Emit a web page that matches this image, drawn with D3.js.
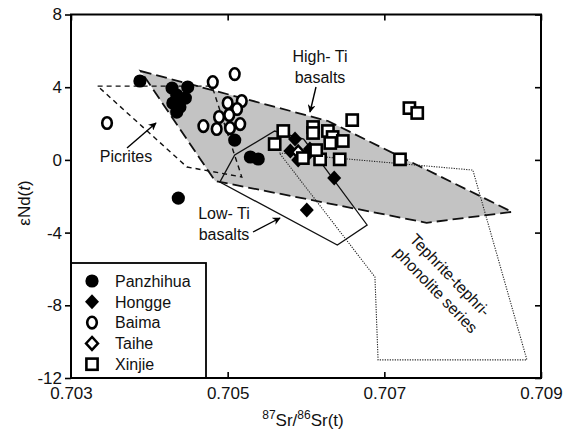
<!DOCTYPE html>
<html><head><meta charset="utf-8">
<script src="https://cdn.jsdelivr.net/npm/d3@7"></script>
<style>
body{margin:0;background:#fff;}
svg{display:block;font-family:Arial,"Liberation Sans",Helvetica,sans-serif;}
</style></head>
<body>
<svg id="c" width="566" height="439"></svg>
<script>
// ---- data ----
const xTicks = [0.703, 0.705, 0.707, 0.709];
const yTicks = [8, 4, 0, -4, -8, -12];
const seriesNames = ["Panzhihua", "Hongge", "Baima", "Taihe", "Xinjie"];

const panzhihua = [[0.70388,4.34],[0.70429,3.95],[0.70449,4.01],[0.70435,3.57],[0.70446,3.40],[0.70430,3.13],[0.70439,2.91],[0.70435,2.63],[0.70509,1.09],[0.70529,0.16],[0.70539,0.05],[0.70437,-2.10]];
const hongge = [[0.70586,1.15],[0.70580,0.49],[0.70605,0.60],[0.70599,0.16],[0.70590,0.0],[0.70636,-1.00],[0.70601,-2.76]];
const baima = [[0.70346,2.03],[0.70481,4.28],[0.70509,4.72],[0.70500,3.13],[0.70518,3.24],[0.70512,2.80],[0.70489,2.36],[0.70502,2.47],[0.70469,1.86],[0.70516,1.97],[0.70486,1.70],[0.70503,1.75]];
const taihe = [[0.70590,0.43]];
const xinjie = [[0.70571,1.59],[0.70560,0.87],[0.70609,1.81],[0.70609,1.48],[0.70628,1.59],[0.70634,1.26],[0.70631,0.93],[0.70647,1.04],[0.70659,2.19],[0.70618,0.03],[0.70643,0.03],[0.70720,0.03],[0.70732,2.85],[0.70742,2.58],[0.70596,0.10],[0.70613,0.54]];

const highTi = [[0.70389,4.89],[0.70628,2.14],[0.70863,-2.86],[0.70754,-3.46],[0.70484,-1.16]];
const picrites = [[0.70334,4.06],[0.70480,4.06],[0.70518,-0.94],[0.70448,-0.39]];
const lowTi = [[0.70490,-1.22],[0.70509,0.27],[0.70560,1.59],[0.70597,1.15],[0.70678,-3.58],[0.70640,-4.68]];
const tephrite = [[0.70566,0.38],[0.70813,-0.56],[0.70882,-11.0],[0.70692,-11.0],[0.70688,-6.44]];

// ---- layout ----
const L = 71, R = 541, T = 14.5, B = 378;
const svg = d3.select("#c");
const x = d3.scaleLinear().domain([0.703, 0.709]).range([L, R]);
const y = d3.scaleLinear().domain([-12, 8]).range([B, T]);
const line = d3.line().x(d => x(d[0])).y(d => y(d[1])).curve(d3.curveLinearClosed);

// fields
svg.append("path").datum(highTi).attr("d", line)
  .attr("fill", "#c3c3c3").attr("stroke", "#111").attr("stroke-width", 1.8)
  .attr("stroke-dasharray", "11,5");
svg.append("path").datum(picrites).attr("d", line)
  .attr("fill", "none").attr("stroke", "#111").attr("stroke-width", 1.4)
  .attr("stroke-dasharray", "5,4");
svg.append("path").datum(lowTi).attr("d", line)
  .attr("fill", "none").attr("stroke", "#111").attr("stroke-width", 1.3);
svg.append("path").datum(tephrite).attr("d", line)
  .attr("fill", "none").attr("stroke", "#222").attr("stroke-width", 1.1)
  .attr("stroke-dasharray", "1.2,1.3");

// symbols
const sym = {
  Panzhihua: (g) => g.append("circle").attr("r", 6.6).attr("fill", "#000"),
  Hongge: (g) => g.append("path").attr("d", "M0,-7.5L7,0L0,7.5L-7,0Z").attr("fill", "#000"),
  Baima: (g) => g.append("ellipse").attr("rx", 4.8).attr("ry", 5.8).attr("fill", "#fff").attr("stroke", "#000").attr("stroke-width", 2.6),
  Taihe: (g) => g.append("path").attr("d", "M0,-6.5L6,0L0,6.5L-6,0Z").attr("fill", "#fff").attr("stroke", "#000").attr("stroke-width", 2.4),
  Xinjie: (g) => g.append("rect").attr("x", -5.6).attr("y", -5.6).attr("width", 11.2).attr("height", 11.2).attr("fill", "#fff").attr("stroke", "#000").attr("stroke-width", 2.6)
};
const dataSets = {Panzhihua: panzhihua, Hongge: hongge, Baima: baima, Taihe: taihe, Xinjie: xinjie};
["Panzhihua", "Baima", "Hongge", "Taihe", "Xinjie"].forEach(name => {
  dataSets[name].forEach(d => {
    const g = svg.append("g").attr("transform", `translate(${x(d[0])},${y(d[1])})`);
    sym[name](g);
  });
});

// axes
const fmtY = d => String(d);
const gL = svg.append("g").attr("transform", `translate(${L},0)`)
  .call(d3.axisLeft(y).tickValues(yTicks).tickSize(6).tickSizeOuter(0).tickPadding(3).tickFormat(fmtY));
const gR = svg.append("g").attr("transform", `translate(${R},0)`)
  .call(d3.axisRight(y).tickValues(yTicks).tickSize(-6).tickSizeOuter(0).tickFormat(""));
const gB = svg.append("g").attr("transform", `translate(0,${B})`)
  .call(d3.axisBottom(x).tickValues(xTicks).tickSize(-6).tickSizeOuter(0).tickPadding(6).tickFormat(d3.format(".3f")));
const gT = svg.append("g").attr("transform", `translate(0,${T})`)
  .call(d3.axisTop(x).tickValues(xTicks).tickSize(-6).tickSizeOuter(0).tickFormat(""));
[gL, gR, gB, gT].forEach(g => {
  g.select(".domain").remove();
  g.selectAll("line").attr("stroke", "#000").attr("stroke-width", 1.6);
  g.selectAll("text").attr("font-size", 17).attr("fill", "#111").attr("font-family", "Arial, 'Liberation Sans', sans-serif");
});
gB.selectAll("text").attr("dy", "0.9em");

// legend
const lg = svg.append("g");
lg.append("rect").attr("x", L).attr("y", 263).attr("width", 135).attr("height", B - 263)
  .attr("fill", "#fff").attr("stroke", "#000").attr("stroke-width", 1.8);
seriesNames.forEach((name, i) => {
  const yy = 281 + i * 20.8;
  const g = lg.append("g").attr("transform", `translate(92,${yy})`);
  sym[name](g);
  lg.append("text").attr("x", 115).attr("y", yy).attr("dy", "0.36em")
    .attr("font-size", 16).attr("fill", "#111").text(name);
});

// frame
svg.append("rect").attr("x", L).attr("y", T).attr("width", R - L).attr("height", B - T)
  .attr("fill", "none").attr("stroke", "#000").attr("stroke-width", 2);

// annotations
const ann = svg.append("g").attr("font-size", 16).attr("fill", "#111");
ann.append("text").attr("x", 320).attr("y", 62).attr("text-anchor", "middle").text("High- Ti");
ann.append("text").attr("x", 320).attr("y", 83).attr("text-anchor", "middle").text("basalts");
ann.append("text").attr("x", 126).attr("y", 162).attr("text-anchor", "middle").text("Picrites");
ann.append("text").attr("x", 224).attr("y", 219).attr("text-anchor", "middle").text("Low- Ti");
ann.append("text").attr("x", 224).attr("y", 240).attr("text-anchor", "middle").text("basalts");
ann.append("text").attr("transform", "translate(446,279) rotate(46)").attr("text-anchor", "middle").text("Tephrite-tephri-");
ann.append("text").attr("transform", "translate(432,294) rotate(46)").attr("text-anchor", "middle").text("phonolite series");

// arrows
const defs = svg.append("defs");
defs.append("marker").attr("id", "ah").attr("viewBox", "0 0 10 10").attr("refX", 9).attr("refY", 5)
  .attr("markerWidth", 8).attr("markerHeight", 8).attr("orient", "auto-start-reverse")
  .attr("markerUnits", "userSpaceOnUse")
  .append("path").attr("d", "M0,0L10,5L0,10L3,5Z").attr("fill", "#000");
const arrows = [[[316, 87], [310, 112]], [[127, 148], [156, 123]], [[253, 232], [280, 218]]];
arrows.forEach(a => {
  svg.append("line").attr("x1", a[0][0]).attr("y1", a[0][1]).attr("x2", a[1][0]).attr("y2", a[1][1])
    .attr("stroke", "#000").attr("stroke-width", 1.4).attr("marker-end", "url(#ah)");
});

// axis titles
const xt = svg.append("text").attr("x", 303).attr("y", 426).attr("text-anchor", "middle")
  .attr("font-size", 17).attr("fill", "#111");
xt.append("tspan").attr("font-size", 12).attr("dy", -7).text("87");
xt.append("tspan").attr("dy", 7).text("Sr/");
xt.append("tspan").attr("font-size", 12).attr("dy", -7).text("86");
xt.append("tspan").attr("dy", 7).text("Sr(t)");

const yt = svg.append("text").attr("transform", "translate(30,203) rotate(-90)").attr("text-anchor", "middle")
  .attr("font-size", 17).attr("fill", "#111");
yt.append("tspan").text("εNd(");
yt.append("tspan").attr("font-style", "italic").text("t");
yt.append("tspan").text(")");
</script>
</body></html>
